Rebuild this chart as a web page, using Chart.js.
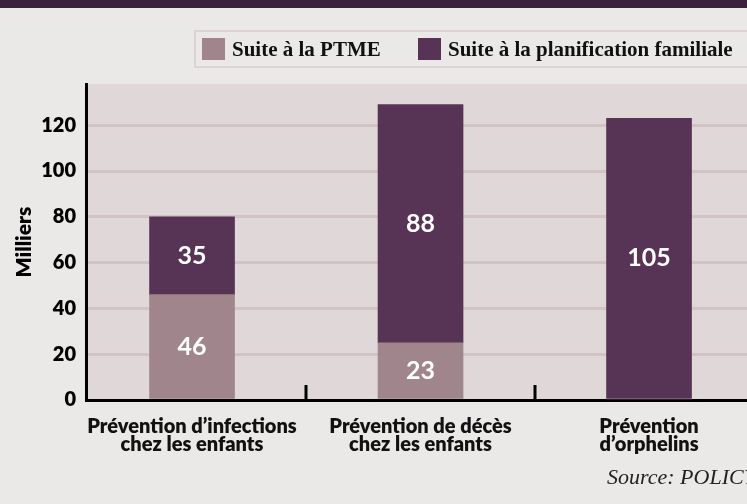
<!DOCTYPE html>
<html>
<head>
<meta charset="utf-8">
<script src="https://cdn.jsdelivr.net/npm/chart.js@4.4.1/dist/chart.umd.min.js"></script>
<style>
  html, body { margin: 0; padding: 0; width: 747px; height: 504px; overflow: hidden; background: #ebe8e8; }
  #band { position: absolute; left: 0; top: 0; width: 747px; height: 8px; background: #3b2139; }
  #wrap { position: absolute; left: 0; top: 0; width: 775px; height: 504px; }
  #legend { position: absolute; left: 194px; top: 30px; width: 600px; height: 34px; border: 2px solid #ddd3d3;
            font-family: "Liberation Serif", serif; font-weight: bold; font-size: 21px; color: #111; white-space: nowrap; }
  #legend .item { position: absolute; top: 5px; height: 24px; line-height: 24px; }
  #legend .sw { display: inline-block; width: 23px; height: 22px; vertical-align: top; margin-right: 7px; margin-top: 1px; }
  #source { position: absolute; left: 607px; top: 464px; font-family: "Liberation Serif", serif; font-style: italic;
            font-size: 22px; color: #222; white-space: nowrap; }
</style>
</head>
<body>
<div id="wrap"><canvas id="chart" width="775" height="504"></canvas></div>
<div id="band"></div>
<div id="legend"></div>
<div id="source">Source: POLICY Project</div>
<script>
// catégories (axe x)
var categories = [
    ['Prévention d\u2019infections', 'chez les enfants'],
    ['Prévention de décès', 'chez les enfants'],
    ['Prévention', 'd\u2019orphelins']
];
var seriesNames = ['Suite à la PTME', 'Suite à la planification familiale'];
var seriesColors = ['#a0858d', '#573355'];

// hauteurs des barres (milliers)
var ptmeValues = [46, 25, 0];
var planifValues = [34, 104, 123];

// chiffres imprimés sur les barres
var ptmeLabels = ['46', '23', ''];
var planifLabels = ['35', '88', '105'];

var yTicks = [0, 20, 40, 60, 80, 100, 120];

function toPoints(arr) {
    return arr.map(function (v, i) { return { x: i, y: v }; });
}

// légende en HTML
var legend = document.getElementById('legend');
var itemLeft = [6, 222];
seriesNames.forEach(function (name, i) {
    var it = document.createElement('div');
    it.className = 'item';
    it.style.left = itemLeft[i] + 'px';
    it.innerHTML = '<span class="sw" style="background:' + seriesColors[i] + '"></span>' + name;
    legend.appendChild(it);
});

// fond de la zone du graphique
var plotBg = {
    id: 'plotBg',
    beforeDraw: function (chart) {
        var a = chart.chartArea, ctx = chart.ctx;
        ctx.save();
        ctx.fillStyle = '#e0d8d8';
        ctx.fillRect(a.left, a.top, a.right - a.left, a.bottom - a.top);
        ctx.restore();
    }
};

// petits traits entre les catégories
var catTicks = {
    id: 'catTicks',
    afterDatasetsDraw: function (chart) {
        var x = chart.scales.x, a = chart.chartArea, ctx = chart.ctx;
        ctx.save();
        ctx.strokeStyle = '#000';
        ctx.lineWidth = 3;
        for (var i = 0; i < categories.length - 1; i++) {
            var px = Math.round(x.getPixelForValue(i + 0.5));
            ctx.beginPath();
            ctx.moveTo(px, a.bottom);
            ctx.lineTo(px, a.bottom - 15);
            ctx.stroke();
        }
        ctx.restore();
    }
};

// valeurs au centre des segments
var barLabels = {
    id: 'barLabels',
    afterDatasetsDraw: function (chart) {
        var ctx = chart.ctx;
        var texts = [ptmeLabels, planifLabels];
        ctx.save();
        ctx.fillStyle = '#fff';
        ctx.font = 'bold 25px Lato';
        ctx.textAlign = 'center';
        ctx.textBaseline = 'middle';
        chart.data.datasets.forEach(function (ds, di) {
            chart.getDatasetMeta(di).data.forEach(function (bar, i) {
                if (!texts[di][i]) return;
                ctx.fillText(texts[di][i], bar.x, (bar.y + bar.base) / 2);
            });
        });
        ctx.restore();
    }
};

new Chart(document.getElementById('chart'), {
    type: 'bar',
    data: {
        datasets: [{
            label: seriesNames[0],
            data: toPoints(ptmeValues),
            backgroundColor: seriesColors[0],
            borderWidth: 0
        }, {
            label: seriesNames[1],
            data: toPoints(planifValues),
            backgroundColor: seriesColors[1],
            borderWidth: 0
        }]
    },
    options: {
        responsive: false,
        animation: false,
        layout: { padding: { top: 84, right: 14, left: 0, bottom: 0 } },
        datasets: { bar: { barThickness: 85 } },
        plugins: {
            legend: { display: false },
            tooltip: { enabled: false }
        },
        scales: {
            x: {
                type: 'linear',
                stacked: true,
                offset: false,
                min: -0.464,
                max: 2.49,
                afterBuildTicks: function (s) {
                    s.ticks = categories.map(function (c, i) { return { value: i }; });
                },
                grid: { display: false },
                border: { display: true, color: '#000', width: 3 },
                ticks: {
                    color: '#111',
                    padding: 10,
                    font: { family: 'Lato', weight: '800', size: 20, lineHeight: 0.9 },
                    maxRotation: 0,
                    autoSkip: false,
                    callback: function (v) { return categories[v]; }
                },
                afterFit: function (s) { s.height = 104; }
            },
            y: {
                stacked: true,
                min: 0,
                max: 138,
                afterBuildTicks: function (s) {
                    s.ticks = yTicks.map(function (v) { return { value: v }; });
                },
                grid: { color: '#d2c4c4', lineWidth: 3, drawTicks: false },
                border: { display: true, color: '#000', width: 3 },
                ticks: {
                    color: '#000',
                    padding: 10,
                    font: { family: 'Lato', weight: '800', size: 20 }
                },
                title: {
                    display: true,
                    text: 'Milliers',
                    color: '#000',
                    padding: { top: 12, bottom: 0 },
                    font: { family: 'Lato', weight: '800', size: 21 }
                },
                afterFit: function (s) { s.width = 86; }
            }
        }
    },
    plugins: [plotBg, catTicks, barLabels]
});
</script>
</body>
</html>
